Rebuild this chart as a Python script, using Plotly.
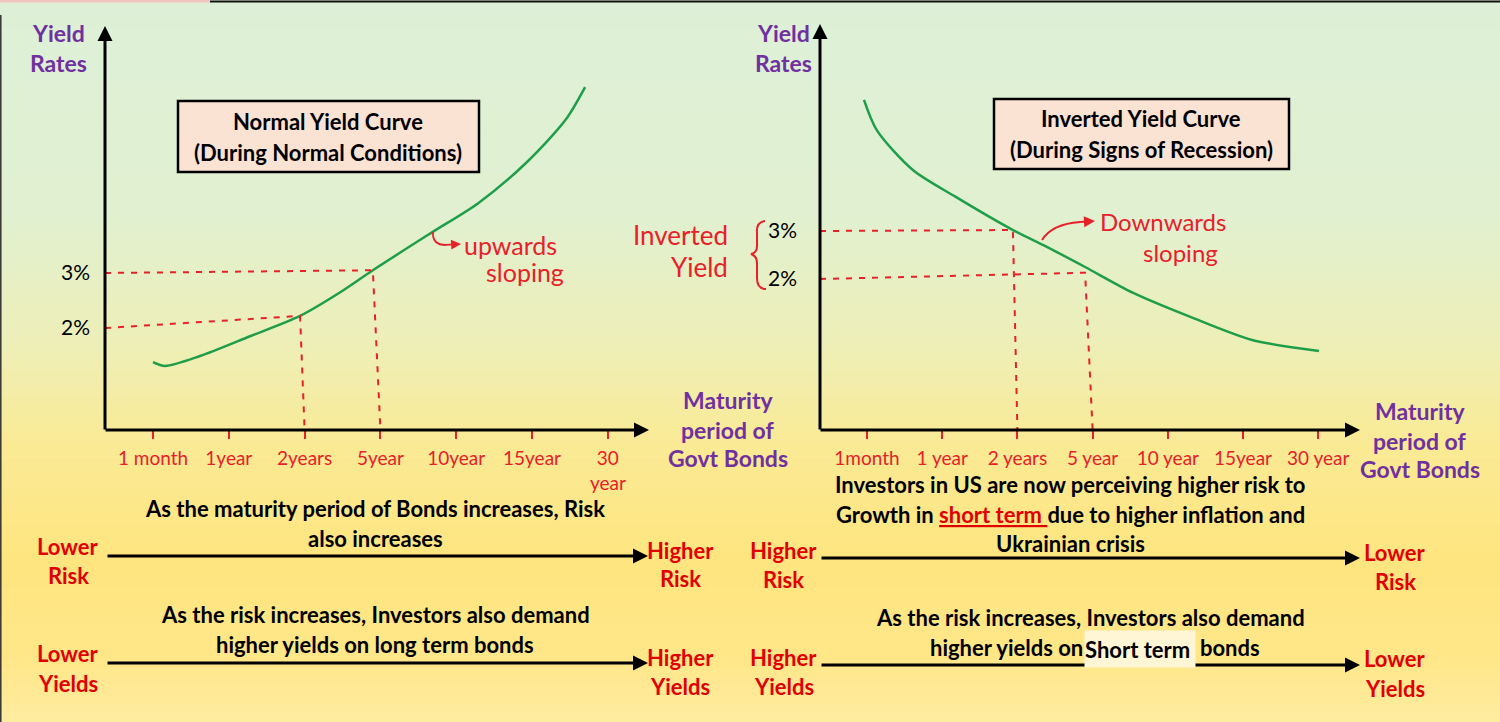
import plotly.graph_objects as go

W, H = 1500, 722

# ---------------- data ----------------
normal_ticks = ["1 month", "1year", "2years", "5year", "10year", "15year", "30<br>year"]
inverted_ticks = ["1month", "1 year", "2 years", "5 year", "10 year", "15year", "30 year"]

# maturity position (tick index) and yield (%)
normal_x = [0.0, 0.16, 0.62, 1.28, 1.94, 2.47, 2.90, 3.67, 4.29, 4.92, 5.44, 5.70]
normal_y = [1.38, 1.31, 1.49, 1.85, 2.22, 2.65, 3.05, 3.73, 4.27, 5.00, 5.78, 6.38]

inverted_x = [-0.04, 0.13, 0.61, 1.18, 1.94, 2.39, 2.90, 3.54, 4.30, 5.12, 6.01]
inverted_y = [5.73, 5.10, 4.27, 3.71, 3.02, 2.67, 2.25, 1.71, 1.21, 0.73, 0.50]

yield_levels = [2, 3]
yield_labels = ["2%", "3%"]

# guide lines: (yield level, curve point x, curve point y, maturity tick)
normal_guides = [(2, 1.94, 2.22, 2), (3, 2.90, 3.05, 3)]
inverted_guides = [(3, 1.94, 3.02, 2), (2, 2.90, 2.13, 3)]

# ---------------- helpers ----------------
def px(x):
    return x / W


def py(y):
    return 1 - y / H


GREEN = "#1f9e4a"
RED_HAND = "#e8202a"
RED = "#e00000"
PURPLE = "#7030a0"
FONT = "Lato"

fig = go.Figure()

# curves
fig.add_trace(go.Scatter(x=normal_x, y=normal_y, mode="lines",
                         line=dict(color=GREEN, width=2.5, shape="spline", smoothing=0.8),
                         xaxis="x", yaxis="y", hoverinfo="skip"))
fig.add_trace(go.Scatter(x=inverted_x, y=inverted_y, mode="lines",
                         line=dict(color=GREEN, width=2.5, shape="spline", smoothing=0.8),
                         xaxis="x2", yaxis="y2", hoverinfo="skip"))

XL = [-0.633, 6.49]
YL = [0.1455, 7.418]
XR = [-0.625, 6.489]
YR = [-1.146, 7.229]

for lvl, cx, cy, tk in normal_guides:
    fig.add_trace(go.Scatter(x=[XL[0], cx, tk], y=[lvl, cy, YL[0]], mode="lines",
                             line=dict(color=RED_HAND, width=2, dash="6px,7px"),
                             xaxis="x", yaxis="y", hoverinfo="skip"))
for lvl, cx, cy, tk in inverted_guides:
    fig.add_trace(go.Scatter(x=[XR[0], cx, tk], y=[lvl, cy, YR[0]], mode="lines",
                             line=dict(color=RED_HAND, width=2, dash="6px,7px"),
                             xaxis="x2", yaxis="y2", hoverinfo="skip"))

# ---------------- background gradient ----------------
stops = [(0.0, (221, 240, 215)), (0.3, (225, 240, 208)), (0.48, (238, 239, 182)),
         (0.62, (250, 234, 148)), (0.78, (255, 229, 127)), (0.92, (255, 231, 138)),
         (1.0, (255, 236, 160))]


def grad(t):
    for (t0, c0), (t1, c1) in zip(stops[:-1], stops[1:]):
        if t0 <= t <= t1:
            f = (t - t0) / (t1 - t0)
            return "rgb(%d,%d,%d)" % tuple(round(a + (b - a) * f) for a, b in zip(c0, c1))
    return "rgb(%d,%d,%d)" % stops[-1][1]


shapes = []
n = 80
for i in range(n):
    y0 = H * i / n
    y1 = H * (i + 1) / n + 1
    shapes.append(dict(type="rect", xref="paper", yref="paper", layer="below",
                       x0=0, x1=1, y0=py(y1), y1=py(y0),
                       fillcolor=grad((i + 0.5) / n), line=dict(width=0)))

# top border lines
shapes.append(dict(type="line", xref="paper", yref="paper", x0=0, x1=px(210), y0=py(1), y1=py(1),
                   line=dict(color="#f2c4bf", width=3)))
shapes.append(dict(type="line", xref="paper", yref="paper", x0=px(210), x1=1, y0=py(1.5), y1=py(1.5),
                   line=dict(color="#111111", width=2)))
shapes.append(dict(type="line", xref="paper", yref="paper", x0=px(0.8), x1=px(0.8), y0=py(15), y1=0,
                   line=dict(color="#333333", width=1.5)))

# title boxes
shapes.append(dict(type="rect", xref="paper", yref="paper", x0=px(178), x1=px(479), y0=py(172), y1=py(101),
                   fillcolor="#fbe3d4", line=dict(color="black", width=2.5)))
shapes.append(dict(type="rect", xref="paper", yref="paper", x0=px(994), x1=px(1289), y0=py(169), y1=py(99),
                   fillcolor="#fbe3d4", line=dict(color="black", width=2.5)))

# red brace for "Inverted Yield"
pts = "M {} {} Q {} {} {} {} L {} {} Q {} {} {} {} Q {} {} {} {} L {} {} Q {} {} {} {}".format(
    px(765), py(221), px(756), py(222), px(757), py(233),
    px(757), py(246),
    px(757), py(253), px(751), py(254),
    px(757), py(256), px(757), py(263),
    px(757), py(278),
    px(757), py(289), px(766), py(289))
shapes.append(dict(type="path", xref="paper", yref="paper", path=pts,
                   line=dict(color=RED_HAND, width=2)))

# hook of the "upwards" arrow
hook = "M {} {} Q {} {} {} {}".format(px(433), py(232), px(432), py(245), px(446), py(245))
shapes.append(dict(type="path", xref="paper", yref="paper", path=hook,
                   line=dict(color=RED_HAND, width=1.8)))
# curve of the "downwards" arrow
dcurve = "M {} {} Q {} {} {} {}".format(px(1042), py(240), px(1052), py(224), px(1080), py(222))
shapes.append(dict(type="path", xref="paper", yref="paper", path=dcurve,
                   line=dict(color=RED_HAND, width=2)))

# ---------------- annotations ----------------
ann = []


def text(x, y, s, size=22, color="black", bold=True, anchor="center", family=FONT, **kw):
    ann.append(dict(x=px(x), y=py(y), xref="paper", yref="paper", showarrow=False,
                    text=("<b>%s</b>" % s) if bold else s, xanchor=anchor, yanchor="middle",
                    font=dict(size=size, color=color, family=family), **kw))


def arrow(x0, y0, x1, y1, color="black", width=3, head=2, size=1.0):
    ann.append(dict(x=px(x1), y=py(y1), xref="paper", yref="paper", ax=x0 - x1, ay=y0 - y1,
                    axref="pixel", ayref="pixel", text="", showarrow=True,
                    arrowhead=head, arrowsize=size, arrowwidth=width, arrowcolor=color))


# axes with arrows
arrow(105, 431, 105, 26)
arrow(104, 430, 649, 430)
arrow(820, 431, 820, 24)
arrow(819, 430, 1360, 430)

# axis titles
for x0, s_list, ys in [(58, ["Yield", "Rates"], [33, 63]), (783, ["Yield", "Rates"], [33, 63]),
                       (728, ["Maturity", "period of", "Govt Bonds"], [400, 430, 458]),
                       (1420, ["Maturity", "period of", "Govt Bonds"], [411, 441, 469])]:
    for s, yy in zip(s_list, ys):
        text(x0, yy, s, size=23, color=PURPLE)

# title box text
text(328, 121, "Normal Yield Curve", size=22)
text(328, 152, "(During Normal Conditions)", size=22)
text(1141, 118, "Inverted Yield Curve", size=22)
text(1141, 149, "(During Signs of Recession)", size=22)

# hand-written notes
text(510, 245, "upwards", size=25, color=RED_HAND, bold=False)
text(525, 272, "sloping", size=25, color=RED_HAND, bold=False)
arrow(444, 245, 461, 244, color=RED_HAND, width=1.8, head=2, size=1.1)
text(1163, 221, "Downwards", size=24, color=RED_HAND, bold=False)
text(1180, 252, "sloping", size=24, color=RED_HAND, bold=False)
arrow(1078, 222, 1095, 221, color=RED_HAND, width=2, head=2, size=1.1)
text(730, 235, "Inverted", size=26, color=RED_HAND, bold=False, anchor="right")
text(730, 267, "Yield", size=26, color=RED_HAND, bold=False, anchor="right")

# bottom-left explanation
text(375, 508, "As the maturity period of Bonds increases, Risk")
text(375, 538, "also increases")
text(375, 614, "As the risk increases, Investors also demand")
text(375, 644, "higher yields on long term bonds")
arrow(106, 556, 648, 556)
arrow(106, 663, 648, 663)
for x0, y0, s in [(68, 546, "Lower"), (68, 575, "Risk"), (680, 550, "Higher"), (680, 578, "Risk"),
                  (68, 653, "Lower"), (68, 683, "Yields"), (680, 657, "Higher"), (680, 686, "Yields")]:
    text(x0, y0, s, size=22, color=RED)

# bottom-right explanation
text(1070, 484, "Investors in US are now perceiving higher risk to")
text(1070, 514, "Growth in <span style='color:#e00000;text-decoration:underline'>short term </span>"
                "due to higher inflation and")
text(1070, 543, "Ukrainian crisis")
arrow(820, 558, 1360, 558)
arrow(820, 665, 1360, 665)
text(1090, 617, "As the risk increases, Investors also demand")
text(1085, 647, "higher yields on", anchor="right")
ann.append(dict(x=px(1084), y=py(649), xref="paper", yref="paper", showarrow=False,
                text="<b>Short term</b>", xanchor="left", yanchor="middle", height=36, width=110,
                align="left", valign="middle",
                bgcolor="#fff6d6", borderpad=0, font=dict(size=22, color="black", family=FONT)))
text(1198, 647, "bonds", anchor="left")
for x0, y0, s in [(784, 550, "Higher"), (784, 579, "Risk"), (1395, 552, "Lower"), (1395, 581, "Risk"),
                  (784, 657, "Higher"), (784, 686, "Yields"), (1395, 658, "Lower"), (1395, 688, "Yields")]:
    text(x0, y0, s, size=22, color=RED)

axis_common = dict(showgrid=False, zeroline=False, showline=False, fixedrange=True)

fig.update_layout(
    width=W, height=H, margin=dict(l=0, r=0, t=0, b=0),
    paper_bgcolor="white", plot_bgcolor="rgba(0,0,0,0)", showlegend=False,
    shapes=shapes, annotations=ann,
    xaxis=dict(domain=[px(105), px(645)], range=XL, tickvals=list(range(7)), ticktext=normal_ticks,
               ticks="outside", ticklen=8, tickwidth=2, tickcolor=RED_HAND, ticklabelstandoff=3,
               tickfont=dict(size=19, color=RED_HAND, family=FONT), anchor="y", **axis_common),
    yaxis=dict(domain=[py(430), py(30)], range=YL, tickvals=yield_levels, ticktext=yield_labels,
               ticks="", ticklabelstandoff=14, tickfont=dict(size=21, color="black", family=FONT),
               anchor="x", **axis_common),
    xaxis2=dict(domain=[px(820), px(1355)], range=XR, tickvals=list(range(7)), ticktext=inverted_ticks,
                ticks="outside", ticklen=8, tickwidth=2, tickcolor=RED_HAND, ticklabelstandoff=3,
                tickfont=dict(size=19, color=RED_HAND, family=FONT), anchor="y2", **axis_common),
    yaxis2=dict(domain=[py(430), py(28)], range=YR, tickvals=yield_levels, ticktext=yield_labels,
                ticks="", ticklabelstandoff=22, tickfont=dict(size=21, color="black", family=FONT),
                anchor="x2", **axis_common),
)

fig.write_html("out.html", config={"displayModeBar": False},
               post_script="document.body.style.margin='0';document.body.style.overflow='hidden';")
